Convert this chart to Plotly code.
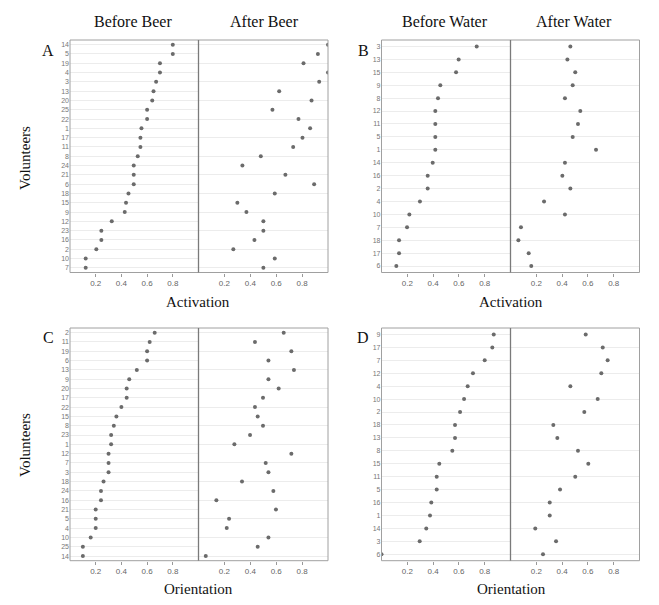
import plotly.graph_objects as go

# ---------------- data ----------------
a_labels = ["14", "5", "19", "4", "3", "13", "20", "25", "22", "1", "17", "11", "8",
            "24", "21", "6", "18", "15", "9", "12", "23", "16", "2", "10", "7"]
a_before = [0.80, 0.80, 0.70, 0.70, 0.67, 0.65, 0.64, 0.60, 0.60, 0.556, 0.548, 0.548, 0.527,
            0.496, 0.496, 0.496, 0.455, 0.436, 0.426, 0.325, 0.244, 0.244, 0.205, 0.122, 0.122]
a_after = [1.00, 0.922, 0.811, 1.00, 0.932, 0.623, 0.873, 0.571, 0.772, 0.862, 0.803, 0.731, 0.481,
           0.339, 0.671, 0.893, 0.589, 0.300, 0.370, 0.501, 0.501, 0.432, 0.269, 0.589, 0.501]

b_labels = ["3", "13", "15", "9", "8", "12", "11", "5", "1", "14", "16", "2", "4", "10", "7", "18", "17", "6"]
b_before = [0.738, 0.598, 0.578, 0.456, 0.438, 0.417, 0.417, 0.417, 0.417, 0.397, 0.358, 0.358,
            0.298, 0.216, 0.198, 0.136, 0.136, 0.115]
b_after = [0.464, 0.441, 0.502, 0.482, 0.422, 0.541, 0.523, 0.482, 0.663, 0.422, 0.402, 0.464,
           0.260, 0.422, 0.081, 0.061, 0.141, 0.161]

c_labels = ["2", "11", "19", "6", "13", "9", "20", "17", "22", "15", "8", "23", "1", "12", "7",
            "3", "18", "24", "16", "21", "5", "4", "10", "25", "14"]
c_before = [0.659, 0.620, 0.600, 0.600, 0.520, 0.461, 0.441, 0.441, 0.400, 0.361, 0.341, 0.320, 0.320,
            0.300, 0.300, 0.300, 0.261, 0.241, 0.241, 0.200, 0.200, 0.200, 0.161, 0.100, 0.100]
c_after = [0.658, 0.436, 0.717, 0.540, 0.737, 0.540, 0.619, 0.498, 0.436, 0.457, 0.498, 0.398, 0.277,
           0.717, 0.519, 0.540, 0.336, 0.578, 0.138, 0.598, 0.236, 0.218, 0.540, 0.457, 0.056]

d_labels = ["9", "17", "7", "12", "4", "10", "2", "18", "13", "8", "15", "11", "5", "16", "1", "14", "3", "6"]
d_before = [0.870, 0.859, 0.800, 0.709, 0.668, 0.640, 0.609, 0.570, 0.570, 0.549, 0.448, 0.428,
            0.428, 0.386, 0.376, 0.347, 0.296, 0.0]
d_after = [0.583, 0.715, 0.753, 0.704, 0.464, 0.676, 0.572, 0.332, 0.363, 0.523, 0.603, 0.502,
           0.384, 0.304, 0.304, 0.192, 0.353, 0.252]

x_tickvals = [0.2, 0.4, 0.6, 0.8]
x_ticktext = ["0.2", "0.4", "0.6", "0.8"]

col_titles = ["Before Beer", "After Beer", "Before Water", "After Water"]
panel_letters = ["A", "B", "C", "D"]
x_titles = ["Activation", "Activation", "Orientation", "Orientation"]
y_title = "Volunteers"

# ---------------- layout helpers ----------------
W, H = 659, 605


def px(x):
    return x / W


def py(y):
    return 1 - y / H


SERIF = "Liberation Serif, Times New Roman, serif"
SANS = "Liberation Sans, Arial, sans-serif"

panels = [
    dict(labels=a_labels, before=a_before, after=a_after, xs=(62, 190.5, 320), ys=(32, 264.5)),
    dict(labels=b_labels, before=b_before, after=b_after, xs=(373.5, 502.5, 631.5), ys=(32, 264.5)),
    dict(labels=c_labels, before=c_before, after=c_after, xs=(62, 190.5, 320), ys=(320, 552.7)),
    dict(labels=d_labels, before=d_before, after=d_after, xs=(373.5, 502.5, 631.5), ys=(320, 552.7)),
]

fig = go.Figure()
layout = {}
shapes = []

for i, p in enumerate(panels):
    labels = p["labels"]
    n = len(labels)
    cats = list(reversed(labels))
    x0, xm, x1 = p["xs"]
    yt, yb = p["ys"]
    ydom = [py(yb), py(yt)]
    for j, vals in enumerate([p["before"], p["after"]]):
        k = 2 * i + j + 1
        xa = "x" if k == 1 else f"x{k}"
        ya = "y" if k == 1 else f"y{k}"
        xkey = "xaxis" if k == 1 else f"xaxis{k}"
        ykey = "yaxis" if k == 1 else f"yaxis{k}"
        xdom = [px(x0), px(xm)] if j == 0 else [px(xm), px(x1)]
        fig.add_trace(go.Scatter(
            x=vals, y=labels, mode="markers", xaxis=xa, yaxis=ya,
            marker=dict(size=4, color="#6b6b6b"), showlegend=False, hoverinfo="skip",
        ))
        layout[xkey] = dict(
            domain=xdom, range=[0, 1], tickvals=x_tickvals, ticktext=x_ticktext,
            ticks="outside", ticklen=3, tickcolor="#999", tickwidth=1,
            tickfont=dict(size=8, color="#666", family=SANS),
            showgrid=False, zeroline=False, showline=False, anchor=ya, fixedrange=True,
        )
        layout[ykey] = dict(
            domain=ydom, type="category", categoryorder="array", categoryarray=cats,
            range=[-0.5, n - 0.5], showgrid=True, gridcolor="#ececec", gridwidth=1,
            showticklabels=(j == 0), tickfont=dict(size=7, color="#777", family=SANS),
            zeroline=False, showline=False, anchor=xa, ticks="", fixedrange=True,
        )
    # frame
    shapes.append(dict(type="rect", xref="paper", yref="paper",
                       x0=px(x0), x1=px(x1), y0=py(yb), y1=py(yt),
                       line=dict(color="#a0a0a0", width=1)))
    shapes.append(dict(type="line", xref="paper", yref="paper",
                       x0=px(xm), x1=px(xm), y0=py(yb), y1=py(yt),
                       line=dict(color="#7a7a7a", width=1.3)))

annotations = []
# column titles
for title, cx in zip(col_titles, [125, 256, 437, 566]):
    annotations.append(dict(text=title, x=px(cx), y=py(14), xref="paper", yref="paper",
                            showarrow=False, xanchor="center", yanchor="middle",
                            font=dict(family=SERIF, size=16, color="#111")))
# panel letters
for letter, (lx, ly) in zip(panel_letters, [(40, 42), (355, 42), (40, 329), (355, 329)]):
    annotations.append(dict(text=letter, x=px(lx), y=py(ly), xref="paper", yref="paper",
                            showarrow=False, xanchor="center", yanchor="middle",
                            font=dict(family=SERIF, size=16, color="#111")))
# x titles
for t, (tx, ty) in zip(x_titles, [(190, 294), (503, 294), (190, 581), (503, 581)]):
    annotations.append(dict(text=t, x=px(tx), y=py(ty), xref="paper", yref="paper",
                            showarrow=False, xanchor="center", yanchor="middle",
                            font=dict(family=SERIF, size=15, color="#111")))
# y titles
for ty in [150, 437]:
    annotations.append(dict(text=y_title, x=px(17), y=py(ty), xref="paper", yref="paper",
                            showarrow=False, xanchor="center", yanchor="middle", textangle=-90,
                            font=dict(family=SERIF, size=15, color="#111")))

fig.update_layout(
    width=W, height=H, margin=dict(l=0, r=0, t=0, b=0),
    paper_bgcolor="white", plot_bgcolor="white",
    shapes=shapes, annotations=annotations, showlegend=False,
    **layout,
)

fig.write_html("out.html", config={"displayModeBar": False})
